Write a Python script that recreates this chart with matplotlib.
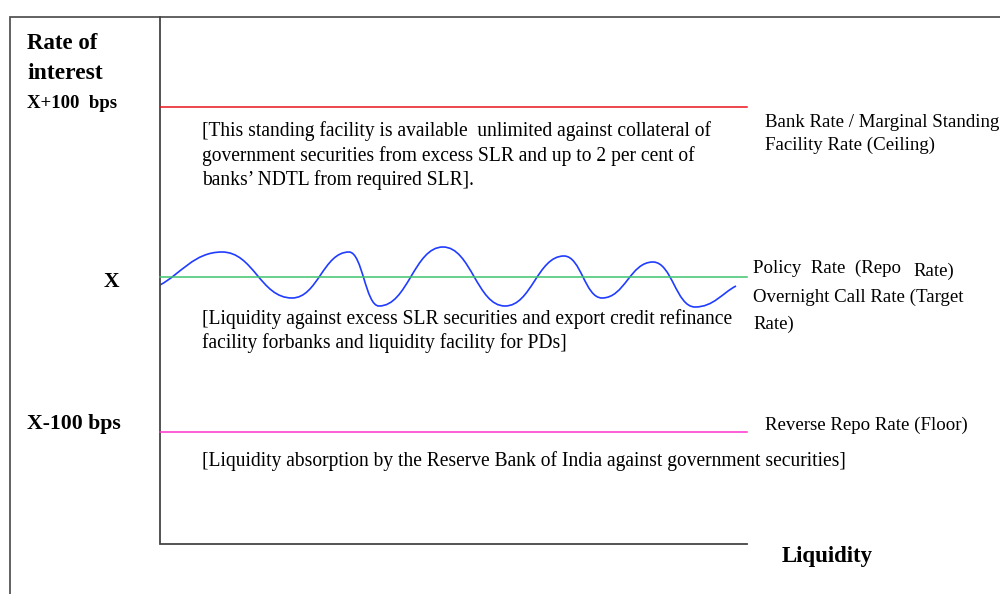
import matplotlib
matplotlib.use("Agg")
import matplotlib.pyplot as plt
from matplotlib.path import Path
from matplotlib.patches import PathPatch

# diagram laid out in picture units (x to the right, y downwards)
frame_x = [9.5, 9.5, 1000]
frame_y = [594, 16.5, 16.5]
axis_x = [160, 160, 747]
axis_y = [17, 544, 544]

rate_lines = {
    "ceiling": (107, "#e8141c"),
    "policy": (276.5, "#3ec46d"),
    "floor": (432, "#ff33cc"),
}
line_x = [160, 747]

# call-rate wave: start, alternating peaks / troughs, end
wave_x = [160, 222, 292, 349, 379, 443, 505, 564, 602, 653, 695, 736]
wave_y = [285, 252, 298, 252, 306, 247, 306, 256, 298, 262, 307, 286]

# (text, x, baseline y, size)
left_labels = [
    ("Rate of", 27, 49, 16.5),
    ("interest", 27, 79, 17),
    ("X+100  bps", 27, 108, 13.5),
    ("X", 104, 287, 15.5),
    ("X-100 bps", 27, 429, 15.7),
]

note_lines = [
    ("[This standing facility is available  unlimited against collateral of", 202, 136),
    ("government securities from excess SLR and up to 2 per cent of", 202, 161),
    ("banks\u2019 NDTL from required SLR].", 202, 185),
    ("[Liquidity against excess SLR securities and export credit refinance", 202, 324),
    ("facility forbanks and liquidity facility for PDs]", 202, 348),
    ("[Liquidity absorption by the Reserve Bank of India against government securities]", 202, 466),
]

right_lines = [
    ("Bank Rate / Marginal Standing", 765, 127),
    ("Facility Rate (Ceiling)", 765, 150),
    ("Policy  Rate  (Repo", 753, 273),
    ("Rate)", 913, 276),
    ("Overnight Call Rate (Target", 753, 302),
    ("Rate)", 753, 329),
    ("Reverse Repo Rate (Floor)", 765, 430),
]

fig = plt.figure(figsize=(10, 5.94), dpi=100)
ax = fig.add_axes([0, 0, 1, 1])
ax.set_xlim(0, 1000)
ax.set_ylim(594, 0)
ax.axis("off")

serif = "Liberation Serif"

ax.plot(frame_x, frame_y, color="#555555", lw=1.3, solid_joinstyle="miter")
ax.plot(axis_x, axis_y, color="#444444", lw=1.3, solid_joinstyle="miter")

for name, (y, c) in rate_lines.items():
    ax.plot(line_x, [y, y], color=c, lw=1.1)

# smooth wave through the extrema (horizontal tangents at peaks/troughs)
verts = [(wave_x[0], wave_y[0])]
codes = [Path.MOVETO]
n = len(wave_x)
for i in range(n - 1):
    x0, y0, x1, y1 = wave_x[i], wave_y[i], wave_x[i + 1], wave_y[i + 1]
    dx = x1 - x0
    if i == 0:
        c1 = (x0 + dx / 3, y0 + (y1 - y0) / 3)
    else:
        c1 = (x0 + dx * 0.45, y0)
    if i == n - 2:
        c2 = (x1 - dx / 3, y1 - (y1 - y0) / 3)
    else:
        c2 = (x1 - dx * 0.45, y1)
    verts += [c1, c2, (x1, y1)]
    codes += [Path.CURVE4] * 3
ax.add_patch(PathPatch(Path(verts, codes), fill=False, edgecolor="#1f3cff", lw=1.2))

for txt, x, y, fs in left_labels:
    ax.text(x, y, txt, fontsize=fs, fontweight="bold", family=serif, va="baseline", ha="left")

for txt, x, y in note_lines:
    ax.text(x, y, txt, fontsize=14.05, family=serif, va="baseline", ha="left")

for txt, x, y in right_lines:
    ax.text(x, y, txt, fontsize=13.6, family=serif, va="baseline", ha="left")

ax.text(782, 562, "Liquidity", fontsize=16.5, fontweight="bold", family=serif, va="baseline", ha="left")

fig.savefig("out.png", dpi=100)
